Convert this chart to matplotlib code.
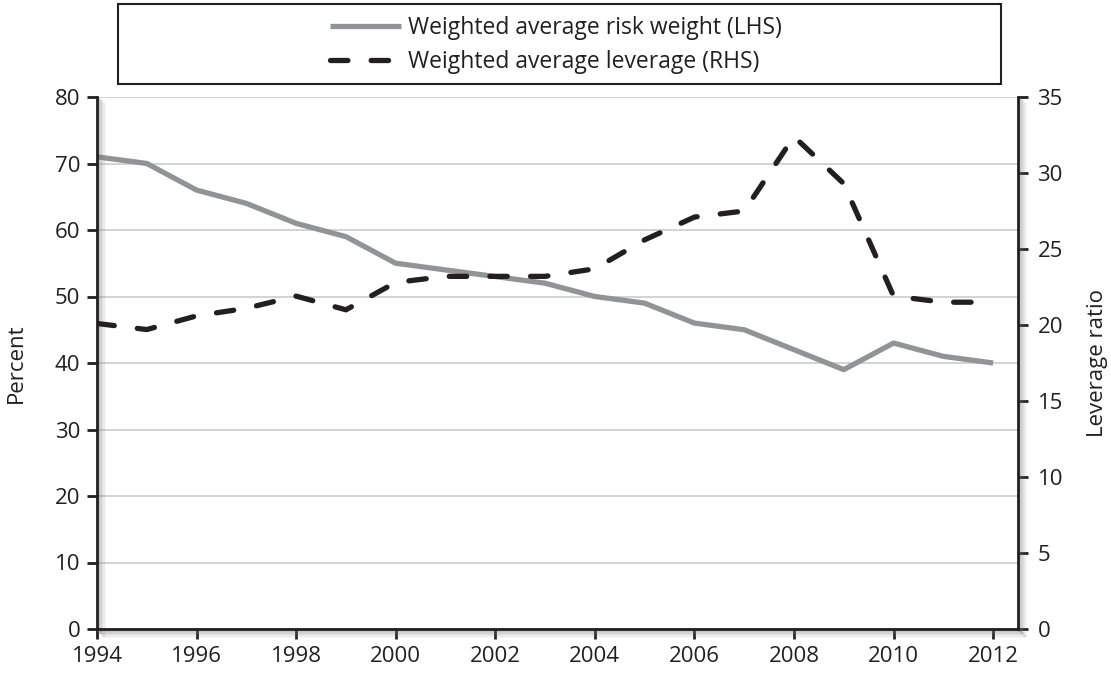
import matplotlib.pyplot as plt
import matplotlib.patheffects as pe
from matplotlib.patches import Rectangle

years = list(range(1994, 2013))
riskWeight = [71, 70, 66, 64, 61, 59, 55, 54, 53, 52, 50, 49, 46, 45, 42, 39, 43, 41, 40]
leverage = [20.1, 19.7, 20.6, 21.1, 21.9, 21.0, 22.8, 23.2, 23.2, 23.2, 23.7, 25.6, 27.1, 27.5,
            32.4, 29.3, 21.9, 21.5, 21.5]
xTicks = list(range(1994, 2013, 2))

plt.rcParams['font.family'] = ['Open Sans', 'DejaVu Sans']
plt.rcParams['font.size'] = 16
dark = "#231f20"

W, H = 1111, 677
fig = plt.figure(figsize=(W / 100, H / 100), dpi=100)
ax = fig.add_axes([97 / W, 48 / H, 921 / W, 532 / H])
ax2 = ax.twinx()

line1, = ax.plot(years, riskWeight, color="#929396", lw=3.8, solid_capstyle="butt",
                 label="Weighted average risk weight (LHS)")
line2, = ax2.plot(years, leverage, color=dark, lw=3.8, dashes=(3.3, 4.4),
                  dash_capstyle="round", label="Weighted average leverage (RHS)")

ax.set_xlim(1994, 2012.5)
ax.set_ylim(0, 80)
ax2.set_ylim(0, 35)
ax.set_xticks(xTicks)
ax.set_yticks(range(0, 81, 10))
ax2.set_yticks(range(0, 36, 5))
ax.grid(axis="y", color="#d0d0d0", lw=1.3)
ax.set_axisbelow(True)

# soft drop shadow next to the axis lines
shadow = [pe.Stroke(offset=(k, -k), linewidth=2, foreground="#777777", alpha=a)
          for k, a in [(5, 0.06), (4, 0.1), (3, 0.15), (2, 0.22), (1, 0.3)]]
shadow.append(pe.Normal())

for a in (ax, ax2):
    a.spines["top"].set_visible(False)
for name in ("left", "bottom", "right"):
    sp = ax2.spines[name] if name == "right" else ax.spines[name]
    sp.set_linewidth(2)
    sp.set_color(dark)
    sp.set_path_effects(shadow)
ax.spines["right"].set_visible(False)
ax2.spines["left"].set_visible(False)
ax2.spines["bottom"].set_visible(False)

ax.tick_params(axis="both", direction="out", length=7, width=2, color=dark, pad=5,
               labelcolor=dark)
ax2.tick_params(axis="y", direction="out", length=7, width=2, color=dark, pad=7,
                labelcolor=dark)
ax.tick_params(axis="x", pad=5)

ax.set_ylabel("Percent", color=dark, labelpad=20)
ax2.set_ylabel("Leverage ratio", color=dark, labelpad=17)

# legend box across the top
fig.patches.append(Rectangle((118 / W, 1 - 84 / H), 883 / W, 80 / H, transform=fig.transFigure,
                             facecolor="white", edgecolor=dark, lw=1.5))
leg = fig.legend(handles=[line1, line2], loc="center",
                 bbox_to_anchor=(556 / W, 1 - 45 / H), frameon=False, fontsize=16.5,
                 handlelength=3.1, handletextpad=0.3, labelspacing=0.45, borderaxespad=0)
for t in leg.get_texts():
    t.set_color(dark)

fig.savefig("out.png", dpi=100)
